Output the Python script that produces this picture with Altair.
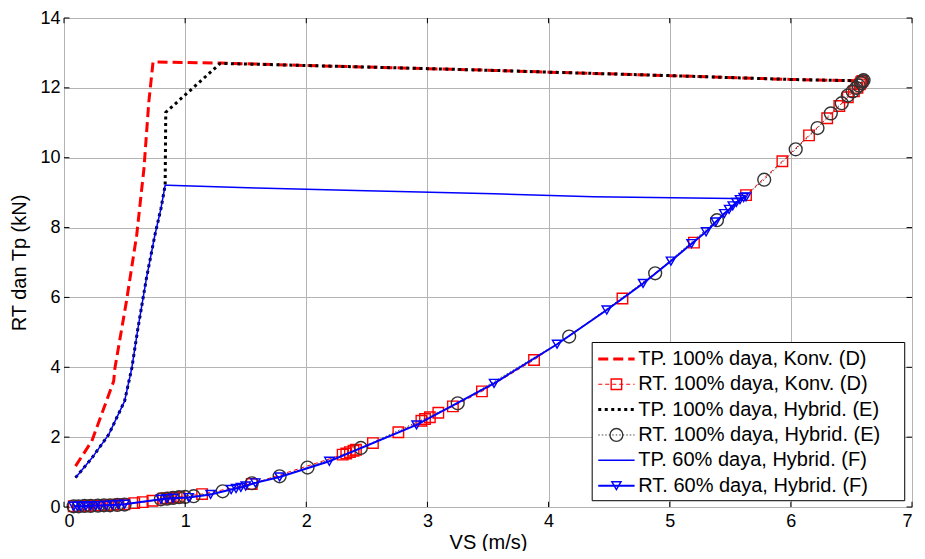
import altair as alt
import pandas as pd

# ---------------- data ----------------
series_names = [
    "TP. 100% daya, Konv. (D)",
    "RT. 100% daya, Konv. (D)",
    "TP. 100% daya, Hybrid. (E)",
    "RT. 100% daya, Hybrid. (E)",
    "TP. 60% daya, Hybrid. (F)",
    "RT. 60% daya, Hybrid. (F)",
]

tp_d_x = [0.095, 0.23, 0.41, 0.42, 0.515, 0.60, 0.66, 0.70, 0.735, 1.29, 2.0, 3.0, 3.55, 4.0, 5.0, 6.0, 6.58]
tp_d_y = [1.17, 1.89, 3.60, 3.97, 5.88, 7.78, 9.69, 11.59, 12.74, 12.71, 12.64, 12.55, 12.50, 12.45, 12.35, 12.24, 12.20]

rt_d_x = [0.08, 0.12, 0.16, 0.20, 0.25, 0.30, 0.35, 0.40, 0.45, 0.50, 0.58, 0.65, 0.73, 0.82, 0.85, 0.88, 0.90,
          0.93, 0.95, 1.14, 1.55, 2.30, 2.33, 2.36, 2.39, 2.41, 2.55, 2.76, 2.95, 2.98, 3.02, 3.09, 3.21, 3.45,
          3.88, 4.61, 5.20, 5.63, 5.93, 6.15, 6.30, 6.40, 6.47, 6.52, 6.55, 6.57, 6.58, 6.59]
rt_d_y = [0.02, 0.02, 0.03, 0.03, 0.04, 0.05, 0.05, 0.06, 0.07, 0.08, 0.11, 0.14, 0.18, 0.24, 0.25, 0.26, 0.27,
          0.28, 0.29, 0.37, 0.66, 1.50, 1.53, 1.57, 1.61, 1.64, 1.83, 2.14, 2.47, 2.52, 2.57, 2.70, 2.88, 3.31,
          4.21, 5.97, 7.57, 8.93, 9.90, 10.64, 11.13, 11.48, 11.73, 11.90, 12.00, 12.10, 12.16, 12.20]

tp_e_x = [0.095, 0.23, 0.37, 0.50, 0.56, 0.61, 0.68, 0.75, 0.80, 0.835, 0.84, 1.29, 2.0, 3.0, 3.55, 4.0, 5.0, 6.0, 6.58]
tp_e_y = [0.84, 1.40, 2.08, 3.03, 3.98, 5.11, 6.54, 7.78, 8.54, 9.21, 11.30, 12.70, 12.64, 12.55, 12.50, 12.45, 12.35, 12.24, 12.20]

rt_e_x = [0.08, 0.12, 0.17, 0.22, 0.28, 0.33, 0.38, 0.44, 0.50, 0.80, 0.85, 0.90, 0.95, 1.00, 1.07, 1.31, 1.55,
          1.78, 2.01, 2.45, 3.25, 4.17, 4.88, 5.39, 5.78, 6.04, 6.22, 6.33, 6.42, 6.47, 6.51, 6.54, 6.56, 6.58,
          6.59, 6.60]
rt_e_y = [0.02, 0.02, 0.03, 0.03, 0.04, 0.05, 0.05, 0.06, 0.07, 0.22, 0.24, 0.26, 0.28, 0.29, 0.31, 0.45, 0.68,
          0.88, 1.13, 1.69, 2.97, 4.88, 6.69, 8.21, 9.37, 10.24, 10.85, 11.27, 11.56, 11.78, 11.90, 12.00, 12.07,
          12.14, 12.19, 12.22]

tp_f_x = [0.095, 0.23, 0.37, 0.50, 0.56, 0.61, 0.68, 0.75, 0.80, 0.835, 0.856, 1.59, 2.41, 3.55, 4.37, 5.19, 5.52, 5.60]
tp_f_y = [0.84, 1.40, 2.08, 3.03, 3.98, 5.11, 6.54, 7.78, 8.54, 9.21, 9.21, 9.13, 9.06, 8.97, 8.88, 8.85, 8.83, 8.85]

rt_f_x = [0.08, 0.11, 0.14, 0.18, 0.22, 0.26, 0.30, 0.35, 0.40, 0.45, 0.50, 0.80, 0.85, 0.90, 1.03, 1.21, 1.38,
          1.42, 1.46, 1.50, 1.58, 1.78, 2.19, 2.91, 3.55, 4.07, 4.48, 4.78, 5.01, 5.18, 5.30, 5.38, 5.45, 5.49,
          5.52, 5.55, 5.58, 5.61, 5.63]
rt_f_y = [0.02, 0.02, 0.02, 0.03, 0.03, 0.04, 0.04, 0.05, 0.06, 0.07, 0.08, 0.22, 0.24, 0.25, 0.27, 0.36, 0.50,
          0.53, 0.56, 0.60, 0.69, 0.86, 1.31, 2.35, 3.54, 4.66, 5.64, 6.40, 7.04, 7.54, 7.88, 8.16, 8.40, 8.52,
          8.62, 8.72, 8.80, 8.86, 8.88]

x_ticks = [0, 1, 2, 3, 4, 5, 6, 7]
y_ticks = [0, 2, 4, 6, 8, 10, 12, 14]

# ---------------- styles ----------------
styles = [
    dict(color="#ff0000", width=3, dash=[10, 5], shape=None),
    dict(color="#ff0000", width=1, dash=[4, 3], shape="square", mcolor="#ff0000", size=110),
    dict(color="#000000", width=3, dash=[3, 3.5], shape=None),
    dict(color="#444444", width=1, dash=[1.5, 2], shape="circle", mcolor="#333333", size=165),
    dict(color="#0000ff", width=1.5, dash=None, shape=None),
    dict(color="#0000ff", width=2, dash=None, shape="triangle-down", mcolor="#0000ff", size=85),
]
series_xy = [(tp_d_x, tp_d_y), (rt_d_x, rt_d_y), (tp_e_x, tp_e_y),
             (rt_e_x, rt_e_y), (tp_f_x, tp_f_y), (rt_f_x, rt_f_y)]

FONT = "Liberation Sans"

X = alt.X("x:Q", scale=alt.Scale(domain=[0, 7], nice=False, zero=False, padding=0),
          axis=alt.Axis(values=x_ticks, format="d", title="VS (m/s)", grid=True, gridColor="#b4b4b4",
                        domain=False, ticks=False, labelPadding=5, labelFontSize=18,
                        titleFontSize=20, titleFontWeight="normal", titlePadding=2,
                        labelFont=FONT, titleFont=FONT, labelColor="#000", titleColor="#000"))
Y = alt.Y("y:Q", scale=alt.Scale(domain=[0, 14], nice=False, zero=False, padding=0),
          axis=alt.Axis(values=y_ticks, format="d", title="RT dan Tp (kN)", grid=True, gridColor="#b4b4b4",
                        domain=False, ticks=False, labelPadding=4, labelFontSize=18,
                        titleFontSize=20, titleFontWeight="normal", titlePadding=10,
                        labelFont=FONT, titleFont=FONT, labelColor="#000", titleColor="#000"))


def line_layer(df, st):
    kw = dict(color=st["color"], strokeWidth=st["width"], strokeCap="butt")
    if st["dash"]:
        kw["strokeDash"] = st["dash"]
    return alt.Chart(df).mark_line(**kw).encode(x=X, y=Y, order="i:Q")


def point_layer(df, st):
    return alt.Chart(df).mark_point(shape=st["shape"], size=st["size"], filled=False,
                                    stroke=st["mcolor"], strokeWidth=1.4, opacity=1).encode(x=X, y=Y)


layers = []
for (xs, ys), st in zip(series_xy, styles):
    df = pd.DataFrame({"x": xs, "y": ys, "i": list(range(len(xs)))})
    layers.append(line_layer(df, st))
    if st["shape"]:
        layers.append(point_layer(df, st))

# inward ticks on all four sides
tb = pd.DataFrame({"x": x_ticks})
layers.append(alt.Chart(tb).mark_rule(color="#000", strokeWidth=1).encode(
    x=X, y=alt.datum(0), y2=alt.datum(0.15)))
layers.append(alt.Chart(tb).mark_rule(color="#000", strokeWidth=1).encode(
    x=X, y=alt.datum(14), y2=alt.datum(13.85)))
tl = pd.DataFrame({"y": y_ticks})
layers.append(alt.Chart(tl).mark_rule(color="#000", strokeWidth=1).encode(
    y=Y, x=alt.datum(0), x2=alt.datum(0.045)))
layers.append(alt.Chart(tl).mark_rule(color="#000", strokeWidth=1).encode(
    y=Y, x=alt.datum(7), x2=alt.datum(6.955)))

# legend (in data coordinates)
box = pd.DataFrame({"x": [4.36], "x2": [6.94], "y": [0.18], "y2": [4.71]})
layers.append(alt.Chart(box).mark_rect(fill="white", stroke="black", strokeWidth=1).encode(
    x=X, x2="x2:Q", y=Y, y2="y2:Q"))
row_y = [4.24 - 0.726 * k for k in range(len(series_names))]
for k, (name, st) in enumerate(zip(series_names, styles)):
    seg = pd.DataFrame({"x": [4.41, 4.71], "y": [row_y[k]] * 2, "i": [0, 1]})
    layers.append(line_layer(seg, st))
    if st["shape"]:
        layers.append(point_layer(pd.DataFrame({"x": [4.56], "y": [row_y[k]]}), st))
    txt = pd.DataFrame({"x": [4.74], "y": [row_y[k]], "t": [name]})
    layers.append(alt.Chart(txt).mark_text(align="left", baseline="middle", fontSize=20,
                                           font=FONT, color="#000").encode(x=X, y=Y, text="t:N"))

chart = alt.layer(*layers).properties(
    width=848, height=489,
    autosize=alt.AutoSizeParams(type="none"),
    padding={"left": 56, "top": 10, "right": 5, "bottom": 44},
).configure_view(stroke="black", strokeWidth=1.2).configure(background="white")

chart.save("out.html", embed_options={"renderer": "svg", "actions": False})
